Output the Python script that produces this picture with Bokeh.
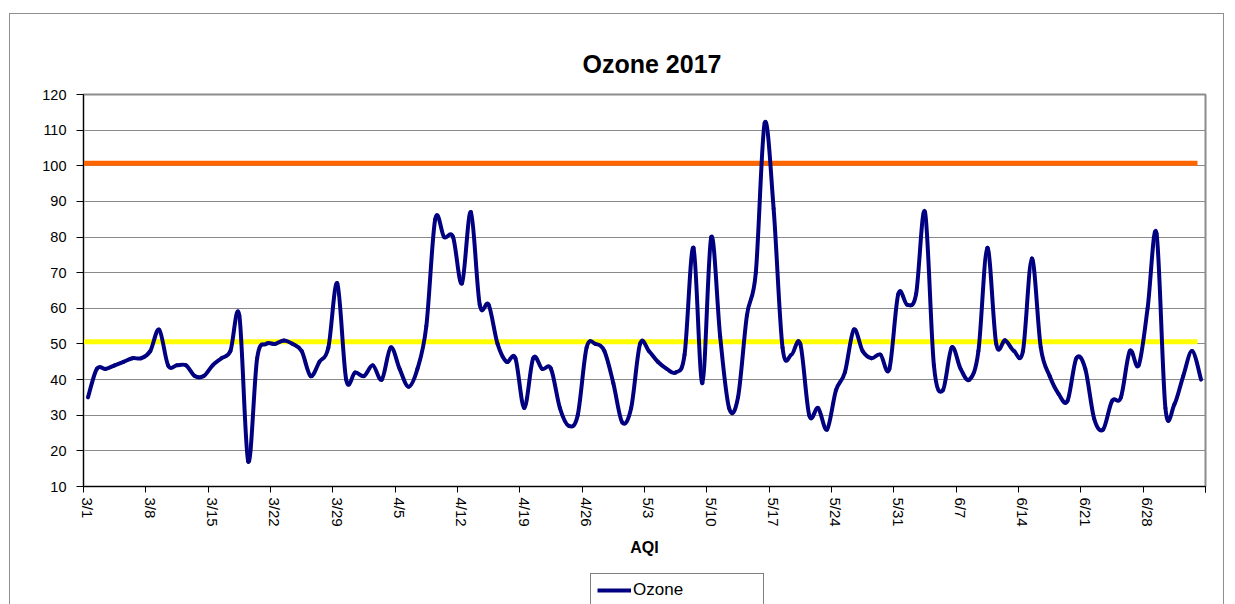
import math
from bokeh.plotting import figure
from bokeh.layouts import column
from bokeh.models import Range1d, FixedTicker, Legend, LegendItem, ColumnDataSource
from bokeh.embed import file_html
from bokeh.resources import INLINE

# ---- data ----
tick_labels = ["3/1", "3/8", "3/15", "3/22", "3/29", "4/5", "4/12", "4/19", "4/26",
               "5/3", "5/10", "5/17", "5/24", "5/31", "6/7", "6/14", "6/21", "6/28"]

# daily ozone AQI, 3/1 .. 7/4
ozone = [35, 43, 43, 44, 45, 46, 46, 48, 54, 44,
         44, 44, 41, 41, 44, 46, 48, 58, 17, 46,
         50, 50, 51, 50, 48, 41, 45, 49, 67, 40,
         42, 41, 44, 40, 49, 43, 38, 43, 55, 85,
         80, 80, 67, 87, 61, 61, 50, 45, 46, 32,
         46, 43, 43, 32, 27, 30, 49, 50, 48, 39,
         28, 32, 50, 48, 45, 43, 42, 47, 77, 39,
         80, 52, 32, 35, 58, 70, 112, 88, 49, 47,
         50, 30, 32, 26, 37, 42, 54, 48, 46, 47,
         43, 64, 61, 64, 87, 44, 37, 49, 43, 40,
         48, 77, 50, 51, 48, 48, 74, 49, 41, 36,
         34, 46, 43, 29, 26, 34, 35, 48, 44, 60,
         81, 32, 33, 41, 48, 40]

guide_levels = [100.7, 50.6]
guide_colors = ["#FF6600", "#FFFF00"]
y_ticks = list(range(10, 121, 10))

FONT = "Liberation Sans"
NAVY = "#000080"

days = list(range(len(ozone)))
n = len(ozone)

# smoothed-line rendering (Excel style): one cubic Bezier per pair of
# neighbouring data points, passing exactly through every data point
def smooth_segments(xs, ys):
    x0, y0, x1, y1, cx0, cy0, cx1, cy1 = ([] for _ in range(8))
    m = len(xs)
    for i in range(m - 1):
        xp, yp = (xs[i - 1], ys[i - 1]) if i > 0 else (xs[i], ys[i])
        xn, yn = (xs[i + 2], ys[i + 2]) if i + 2 < m else (xs[i + 1], ys[i + 1])
        x0.append(xs[i]); y0.append(ys[i]); x1.append(xs[i + 1]); y1.append(ys[i + 1])
        cx0.append(xs[i] + (xs[i + 1] - xp) / 6.0)
        cy0.append(ys[i] + (ys[i + 1] - yp) / 6.0)
        cx1.append(xs[i + 1] - (xn - xs[i]) / 6.0)
        cy1.append(ys[i + 1] - (yn - ys[i]) / 6.0)
    return dict(x0=x0, y0=y0, x1=x1, y1=y1, cx0=cx0, cy0=cy0, cx1=cx1, cy1=cy1)

W = 1213
p = figure(width=W, height=550,
           x_range=Range1d(-0.5, n - 0.5), y_range=Range1d(10, 120),
           output_backend="svg", toolbar_location=None,
           min_border_left=73, min_border_right=18,
           min_border_top=80, min_border_bottom=78)
p.background_fill_color = "white"
p.border_fill_color = "white"
p.outline_line_color = "#8c8c8c"
p.outline_line_width = 2

# title
p.title.text = "Ozone 2017"
p.title.align = "left"
p.title.offset = 499
p.title.standoff = 34
p.title.text_font = FONT
p.title.text_font_style = "bold"
p.title.text_font_size = "25px"
p.title.text_color = "black"

# grid
p.xgrid.visible = False
p.ygrid.ticker = FixedTicker(ticks=y_ticks)
p.ygrid.grid_line_color = "#8a8a8a"
p.ygrid.grid_line_width = 1

# y axis
p.yaxis.ticker = FixedTicker(ticks=y_ticks)
p.yaxis.axis_line_color = "black"
p.yaxis.major_tick_line_color = "black"
p.yaxis.major_tick_out = 7
p.yaxis.major_tick_in = 0
p.yaxis.minor_tick_line_color = None
p.yaxis.major_label_standoff = 10
p.yaxis.major_label_text_font = FONT
p.yaxis.major_label_text_font_size = "14.5px"
p.yaxis.major_label_text_color = "black"

# x axis
label_pos = [7 * k for k in range(len(tick_labels))]
bounds = [k - 0.5 for k in range(0, n + 1, 7)] + [n - 0.5]
p.xaxis.ticker = FixedTicker(ticks=label_pos, minor_ticks=bounds)
p.xaxis.major_label_overrides = {pos: lab for pos, lab in zip(label_pos, tick_labels)}
p.xaxis.major_label_orientation = -math.pi / 2
p.xaxis.major_tick_line_color = None
p.xaxis.major_tick_out = 6
p.xaxis.major_tick_in = 0
p.xaxis.minor_tick_line_color = "black"
p.xaxis.minor_tick_out = 6
p.xaxis.minor_tick_in = 0
p.xaxis.axis_line_color = "black"
p.xaxis.major_label_standoff = 5
p.xaxis.major_label_text_font = FONT
p.xaxis.major_label_text_font_size = "15px"
p.xaxis.major_label_text_color = "black"
p.xaxis.axis_label = "AQI"
p.xaxis.axis_label_text_font = FONT
p.xaxis.axis_label_text_font_style = "bold"
p.xaxis.axis_label_text_font_size = "16px"
p.xaxis.axis_label_text_color = "black"
p.xaxis.axis_label_standoff = 9

# guide lines
for lvl, col in zip(guide_levels, guide_colors):
    p.segment(x0=-0.5, y0=lvl, x1=n - 1.4, y1=lvl, line_color=col, line_width=5)

# ozone series (smoothed line through the daily values)
src = ColumnDataSource(smooth_segments(days, ozone))
p.bezier(x0="x0", y0="y0", x1="x1", y1="y1", cx0="cx0", cy0="cy0", cx1="cx1", cy1="cy1",
         source=src, line_color=NAVY, line_width=4, line_cap="round")

# legend strip below the chart
q = figure(width=W, height=44, x_range=Range1d(0, 1), y_range=Range1d(0, 1),
           x_axis_type=None, y_axis_type=None,
           output_backend="svg", toolbar_location=None,
           min_border_left=0, min_border_right=0, min_border_top=0, min_border_bottom=0)
q.outline_line_color = None
q.xgrid.visible = False
q.ygrid.visible = False
q.background_fill_color = "white"
q.border_fill_color = "white"
rq = q.line([-5, -4], [-5, -4], line_color=NAVY, line_width=4)

legend = Legend(items=[LegendItem(label="Ozone", renderers=[rq])],
                location=(507, 1), orientation="horizontal")
legend.border_line_color = "black"
legend.border_line_width = 1
legend.background_fill_color = "white"
legend.background_fill_alpha = 1
legend.label_text_font = FONT
legend.label_text_font_size = "17px"
legend.label_text_color = "black"
legend.glyph_width = 34
legend.label_standoff = 2
legend.label_width = 124
legend.padding = 6
legend.margin = 0
q.add_layout(legend, "center")

layout = column(p, q, spacing=0)
layout.margin = (13, 0, 0, 9)
layout.styles = {"border": "1px solid #8f8f8f"}

open("out.html", "w").write(file_html(layout, INLINE))
